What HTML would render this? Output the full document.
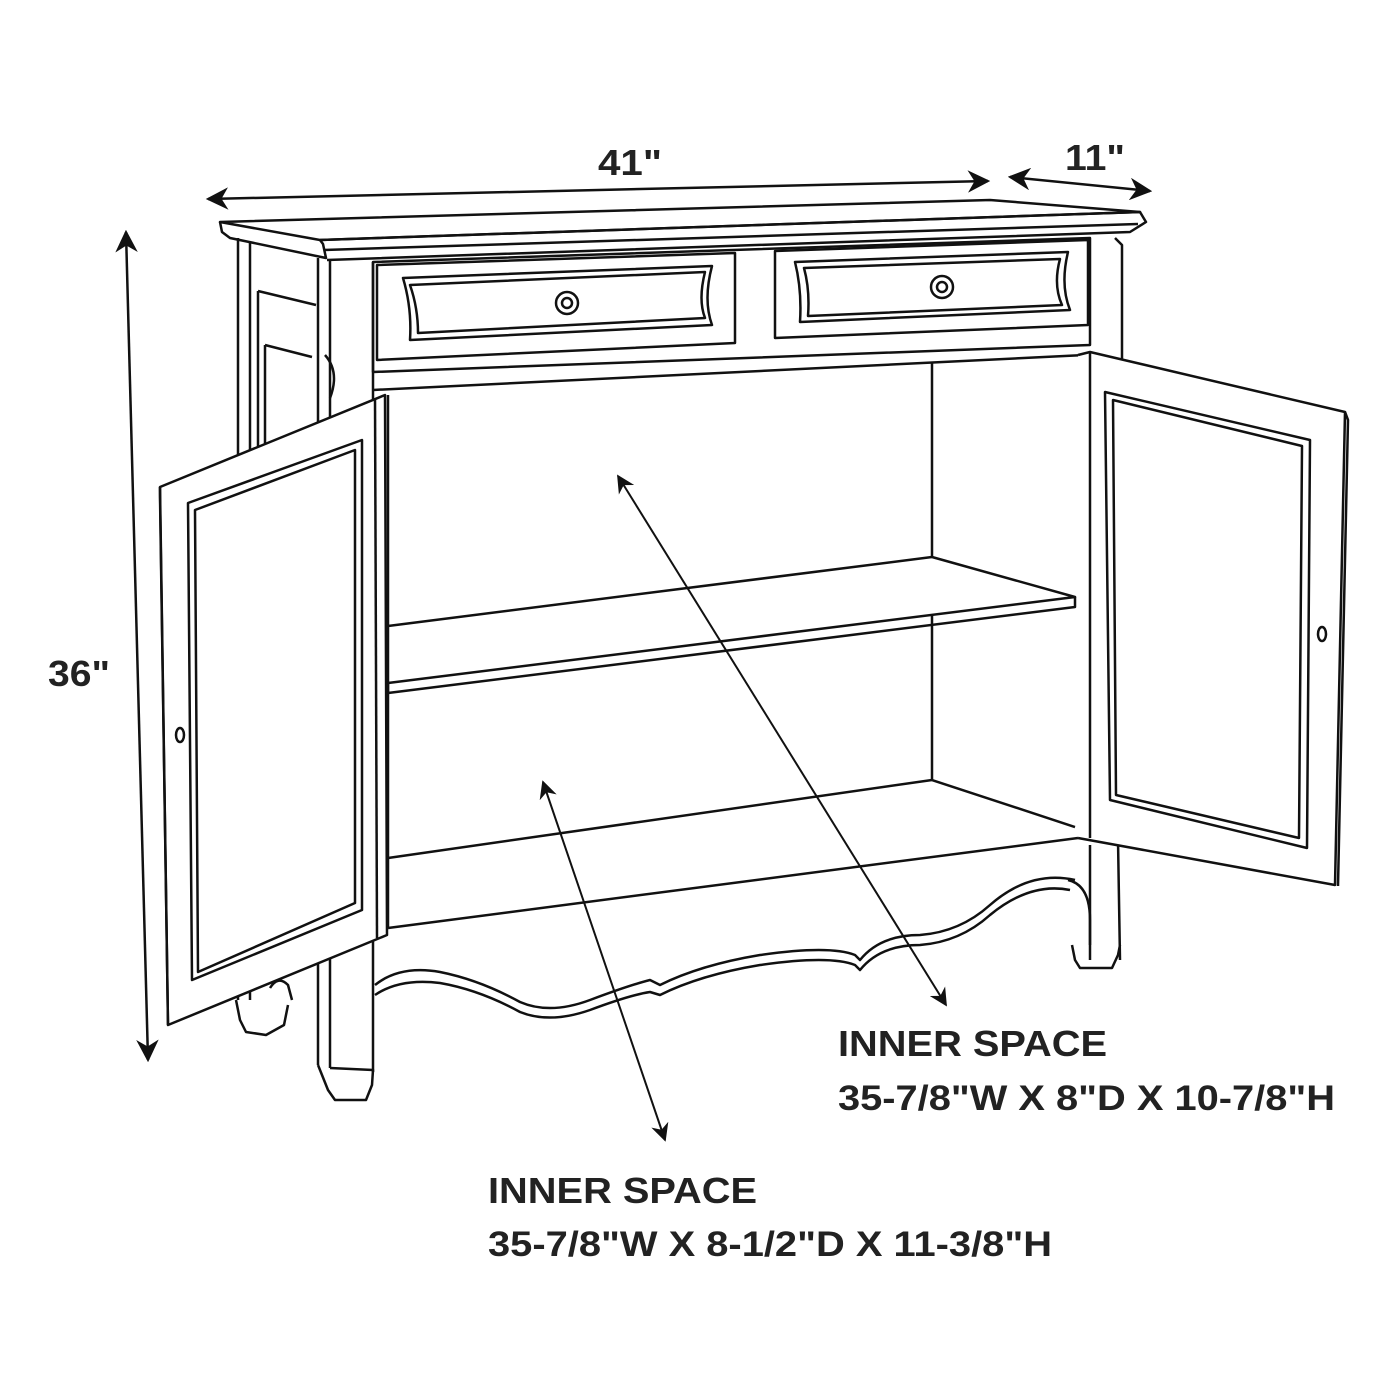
<!DOCTYPE html>
<html><head><meta charset="utf-8"><style>
html,body{margin:0;padding:0;background:#fff;}
svg{display:block}
text{font-family:"Liberation Sans",Arial,sans-serif;font-weight:bold;fill:#222}
</style></head><body>
<svg width="1400" height="1400" viewBox="0 0 1400 1400" xmlns="http://www.w3.org/2000/svg">
<defs>
<marker id="a" viewBox="0 0 10 10" refX="9" refY="5" markerWidth="9" markerHeight="9" orient="auto-start-reverse"><path d="M0,0 L10,5 L0,10 L3,5 z" fill="#111"/></marker>
</defs>
<g fill="none" stroke="#111" stroke-width="2.5" stroke-linejoin="round">
<line x1="208" y1="199" x2="988" y2="181" marker-start="url(#a)" marker-end="url(#a)"/>
<line x1="1010" y1="177" x2="1150" y2="191" marker-start="url(#a)" marker-end="url(#a)"/>
<line x1="126" y1="232" x2="148" y2="1060" marker-start="url(#a)" marker-end="url(#a)"/>
<path d="M220,222 L990,200 L1140,212 L320,240 Z" fill="#fff"/>
<path d="M220,222 L222,232 L230,238 L326,258 L323,244 L320,240"/>
<path d="M320,240 L1140,212 L1146,222 L1130,232 L327,260"/>
<line x1="324" y1="250" x2="1138" y2="224"/>
<path d="M238,238 L238,1000 M250,242 L250,1000"/>
<path d="M258,291 L316,305 M258,291 L258,600 M265,345 L312,357 M265,345 L265,600"/>
<path d="M325,355 Q340,372 330,398"/>
<path d="M318,258 L318,1065 M330,260 L330,1068 M373,262 L373,1072"/>
<path d="M318,1065 L328,1090 L335,1100 L366,1100 L372,1085 L373,1070 L330,1068"/>
<path d="M373,262 L1090,238 L1090,345 L373,372 Z"/>
<path d="M373,390 L1085,355"/>
<path d="M377,265 L735,253 L735,343 L377,360 Z"/>
<path d="M775,251 L1088,240 L1088,325 L775,338 Z"/>
<path d="M403,278 L712,266 Q703,300 712,325 L410,340 Q412,308 403,278 Z"/>
<path d="M410,285 L705,272 Q698,300 705,318 L418,333 Q418,308 410,285 Z"/>
<path d="M795,262 L1068,252 Q1060,285 1070,310 L800,322 Q802,290 795,262 Z"/>
<path d="M804,268 L1060,259 Q1053,285 1062,305 L808,316 Q810,290 804,268 Z"/>
<circle cx="567" cy="303" r="11"/><circle cx="567" cy="303" r="5"/>
<circle cx="942" cy="287" r="11"/><circle cx="942" cy="287" r="5"/>
<path d="M1115,238 L1122,245 L1122,390 L1113,420"/>
<path d="M1090,845 L1090,960 M1118,840 L1120,960"/>
<path d="M1072,945 L1075,960 L1080,968 L1112,968 L1118,955 L1120,945"/>
<path d="M1068,880 Q1090,885 1090,920 L1090,945"/>
<path d="M388,395 L388,928"/>
<path d="M932,362 L932,780"/>
<path d="M388,626 L932,557 L1075,597 L388,683 Z" fill="#fff"/>
<path d="M388,683 L388,693 L1075,607 L1075,597"/>
<path d="M388,858 L932,780 L1075,827"/>
<path d="M388,928 L1078,838"/>
<path d="M375,985 Q400,965 440,972 Q480,980 520,1002 Q550,1015 590,1000 Q630,985 650,980 L660,985 Q700,965 760,955 Q830,945 855,955 L860,960 Q880,935 920,935 Q960,932 990,905 Q1030,870 1075,880"/>
<path d="M375,995 Q400,978 440,983 Q480,990 520,1012 Q550,1024 590,1010 Q630,995 650,992 L660,995 Q700,975 760,965 Q830,955 855,965 L860,970 Q880,945 920,945 Q960,942 990,915 Q1030,882 1070,890"/>
<path d="M1078,355 L1090,352 L1345,412 L1335,885 L1078,838" fill="#fff"/>
<path d="M1090,352 L1090,838"/>
<path d="M1345,412 L1348,420 L1338,886"/>
<path d="M1105,392 L1310,440 L1307,848 L1110,800 Z"/>
<path d="M1113,400 L1302,446 L1299,838 L1116,795 Z"/>
<ellipse cx="1322" cy="634" rx="4" ry="7"/>
<path d="M236,1000 L240,1020 L246,1032 L266,1035 L284,1025 L288,1005"/>
<path d="M270,988 Q278,975 288,985 L292,1000"/>
<path d="M160,487 L385,395 L387,935 L168,1025 Z" fill="#fff"/>
<path d="M160,487 L160,497 L168,1025"/>
<path d="M375,398 L377,938"/>
<path d="M188,503 L362,440 L362,910 L192,980 Z"/>
<path d="M195,510 L355,450 L355,903 L198,972 Z"/>
<ellipse cx="180" cy="735" rx="4" ry="7"/>
</g>
<g stroke="#111" stroke-width="2" fill="none">
<line x1="618" y1="476" x2="946" y2="1005" marker-start="url(#a)" marker-end="url(#a)"/>
<line x1="543" y1="782" x2="665" y2="1140" marker-start="url(#a)" marker-end="url(#a)"/>
</g>
<text x="598" y="175" font-size="36" textLength="64" lengthAdjust="spacingAndGlyphs">41"</text>
<text x="1065" y="170" font-size="36" textLength="60" lengthAdjust="spacingAndGlyphs">11"</text>
<text x="48" y="686" font-size="36" textLength="62" lengthAdjust="spacingAndGlyphs">36"</text>
<text x="838" y="1056" font-size="36" textLength="269" lengthAdjust="spacingAndGlyphs">INNER SPACE</text>
<text x="838" y="1110" font-size="35" textLength="497" lengthAdjust="spacingAndGlyphs">35-7/8"W X 8"D X 10-7/8"H</text>
<text x="488" y="1203" font-size="36" textLength="269" lengthAdjust="spacingAndGlyphs">INNER SPACE</text>
<text x="488" y="1256" font-size="35" textLength="564" lengthAdjust="spacingAndGlyphs">35-7/8"W X 8-1/2"D X 11-3/8"H</text>
</svg>
</body></html>
